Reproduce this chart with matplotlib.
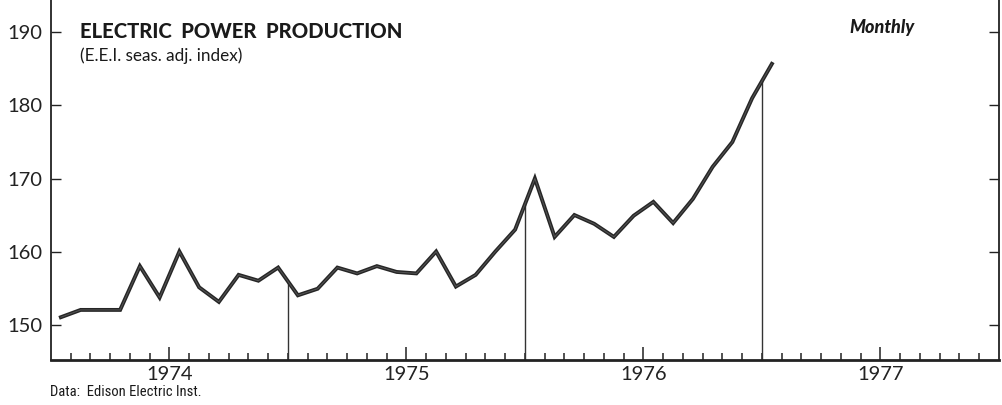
import matplotlib.pyplot as plt
import numpy as np
from matplotlib.ticker import FixedLocator, NullFormatter

# E.E.I. seasonally adjusted index, monthly from Jan 1974
index_values = [151, 152, 152, 152, 158, 153.7, 160, 155.1, 153.1, 156.8, 156, 157.8,
                154, 154.9, 157.8, 157, 158, 157.2, 157, 160, 155.2, 156.8, 160, 163,
                170, 162, 165, 163.8, 162, 164.9, 166.8, 163.9, 167.2, 171.6, 175, 181,
                185.7]
years = ['1974', '1975', '1976', '1977']
y_ticks = [150, 160, 170, 180, 190]

months = np.arange(len(index_values)) + 0.5
n_months = 12 * len(years)

fig = plt.figure(figsize=(10.03, 4.05), dpi=100)
ax = fig.add_axes([51/1003, 45/405, 948/1003, 360/405])

ax.plot(months, index_values, color='#262626', lw=2.8, solid_joinstyle='miter', zorder=3)
ax.plot(months, index_values, color='#555555', lw=0.7, zorder=4)

ymin, ymax = 145.14, 194.45
ax.set_xlim(0, n_months)
ax.set_ylim(ymin, ymax)

# year dividers drawn up to the curve
bounds = [12 * i for i in range(1, len(years))]
ax.vlines(bounds, ymin, np.interp(bounds, months, index_values), color='#333333', lw=1.0, zorder=2)

ax.spines['top'].set_visible(False)
ax.spines['bottom'].set_linewidth(2.0)
ax.spines['left'].set_linewidth(1.3)
ax.spines['right'].set_linewidth(1.3)
for s in ax.spines.values():
    s.set_color('#222222')

ax.set_yticks(y_ticks)
ax.set_yticklabels([str(v) for v in y_ticks], fontsize=14.5, family='Lato', color='#222222')
ax.tick_params(axis='y', direction='in', length=7.5, width=1.0, right=True, pad=6, colors='#222222')

ax.set_xticks([12 * i + 6 for i in range(len(years))])
ax.set_xticklabels(years, fontsize=14.5, family='Lato', color='#222222')
ax.xaxis.set_minor_locator(FixedLocator([m for m in range(1, n_months) if m % 12 != 6]))
ax.xaxis.set_minor_formatter(NullFormatter())
ax.tick_params(axis='x', which='major', direction='in', length=9.5, width=1.1, pad=4.5, colors='#222222')
ax.tick_params(axis='x', which='minor', direction='in', length=5, width=1.1, colors='#222222')

fig.text(80/1003, 1 - 32/405, 'ELECTRIC  POWER  PRODUCTION', fontsize=14.6, fontweight='black',
         family='Lato', va='center', ha='left', color='#1a1a1a')
fig.text(80/1003, 1 - 56/405, '(E.E.I. seas. adj. index)', fontsize=12.3, family='Lato',
         va='center', ha='left', color='#1a1a1a')
fig.text(849/1003, 1 - 28/405, 'Monthly', fontsize=13, fontweight='black', style='italic',
         family='Lato', va='center', ha='left', color='#1a1a1a')
fig.text(50/1003, 1 - 392/405, 'Data:  Edison Electric Inst.', fontsize=10.5,
         family=['Liberation Sans Narrow', 'DejaVu Sans Condensed', 'Roboto Condensed', 'Roboto'],
         va='center', ha='left', color='#1a1a1a')

fig.savefig('out.png', dpi=100)
